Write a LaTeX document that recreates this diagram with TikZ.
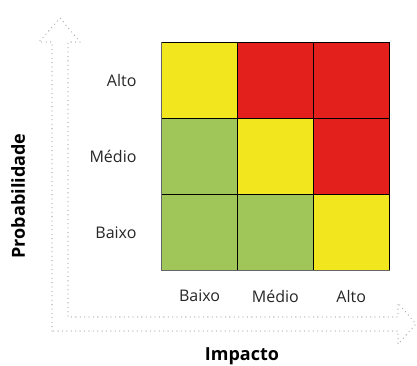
\documentclass[tikz,border=0pt]{standalone}
\usepackage{fontspec}
\setmainfont{Open Sans}
\definecolor{amarelo}{RGB}{242,230,30}
\definecolor{vermelho}{RGB}{227,32,27}
\definecolor{verde}{RGB}{160,198,90}
\tikzset{
  cell/.style={draw=black,line width=0.8pt,minimum size=75.8pt,inner sep=0pt},
  rotulo/.style={font=\fontsize{16}{18}\selectfont,text=black!85},
  eixo/.style={font=\bfseries\fontsize{18}{20}\selectfont},
  seta/.style={draw=black!35,line width=1.3pt,line cap=round,dash pattern=on 0pt off 4.4pt}
}
\begin{document}
\begin{tikzpicture}[x=1pt,y=-1pt]
        \useasboundingbox (0,0) rectangle (417,365);
        \draw[seta] (52,331) -- (52,42) -- (39,42) -- (60,18) -- (80,42) -- (68,42) -- (68,317)
                -- (398,317) -- (398,303) -- (416,324) -- (398,344) -- (398,331) -- cycle;
        \node[cell,fill=amarelo] (c31) at (199.6,80.6){};
        \node[cell,fill=vermelho] (c32) at (275.4,80.6){};
        \node[cell,fill=vermelho] (c33) at (351.2,80.6){};
        \node[cell,fill=verde] (c21) at (199.6,156.4){};
        \node[cell,fill=amarelo] (c22) at (275.4,156.4){};
        \node[cell,fill=vermelho] (c23) at (351.2,156.4){};
        \node[cell,fill=verde] (c11) at (199.6,232.2){};
        \node[cell,fill=verde] (c12) at (275.4,232.2){};
        \node[cell,fill=amarelo] (c13) at (351.2,232.2){};
        \draw[black!60,line width=1.2pt] (c31.north west) -- (c11.south west) -- (c13.south east);
        \node[rotulo,anchor=east] (p3) at (140,80.6) {Alto};
        \node[rotulo,anchor=east] (p2) at (140,156.4) {Médio};
        \node[rotulo,anchor=east] (p1) at (140,232.2) {Baixo};
        \node[rotulo] (i1) at (199.6,296) {Baixo};
        \node[rotulo] (i2) at (275.4,296) {Médio};
        \node[rotulo] (i3) at (351.2,296) {Alto};
        \node[eixo,rotate=90] (prob) at (18,196) {Probabilidade};
        \node[eixo] (imp) at (242,356) {Impacto};
\end{tikzpicture}
\end{document}
